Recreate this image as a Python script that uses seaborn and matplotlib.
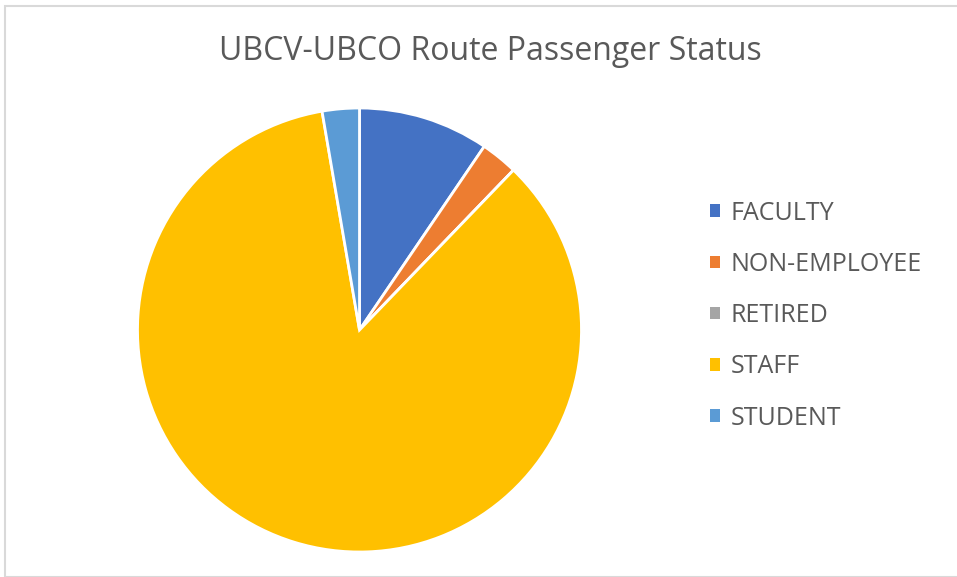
import matplotlib
matplotlib.use("Agg")
import matplotlib.pyplot as plt
import seaborn as sns
from matplotlib.patches import Rectangle, Patch

sns.set_theme(style="white")
plt.rcParams['font.family'] = ['Open Sans', 'DejaVu Sans']

categories = ["FACULTY", "NON-EMPLOYEE", "RETIRED", "STAFF", "STUDENT"]
values = [9.5, 2.7, 0.0, 85.1, 2.7]
colors = ["#4472C4", "#ED7D31", "#A5A5A5", "#FFC000", "#5B9BD5"]
title = "UBCV-UBCO Route Passenger Status"

W, H = 957, 577
fig = plt.figure(figsize=(W / 100, H / 100), dpi=100)
fig.patch.set_facecolor("white")

# border
fig.patches.append(Rectangle((5 / W, 0), 1.2, 1 - 6 / H, transform=fig.transFigure,
                             fill=False, edgecolor="#D9D9D9", linewidth=1.5))

cx, cy, r = 359.5, 330, 222
ax = fig.add_axes([(cx - r) / W, 1 - (cy + r) / H, 2 * r / W, 2 * r / H])
ax.pie(values, colors=colors, startangle=90, counterclock=False, radius=1,
       wedgeprops=dict(edgecolor="white", linewidth=2))
ax.set_xlim(-1, 1)
ax.set_ylim(-1, 1)
ax.set_aspect("equal")
ax.axis("off")

fig.text(490 / W, 1 - 52 / H, title, ha="center", va="center",
         fontsize=23, color="#595959")

handles = [Patch(facecolor=c, edgecolor="none") for c in colors]
leg = fig.legend(handles, categories, loc="upper left",
                 bbox_to_anchor=(687 / W, 1 - 178 / H),
                 frameon=False, fontsize=18, labelcolor="#595959",
                 handlelength=0.4, handleheight=0.4, handletextpad=0.45,
                 labelspacing=1.05)

fig.savefig("out.png", dpi=100)
